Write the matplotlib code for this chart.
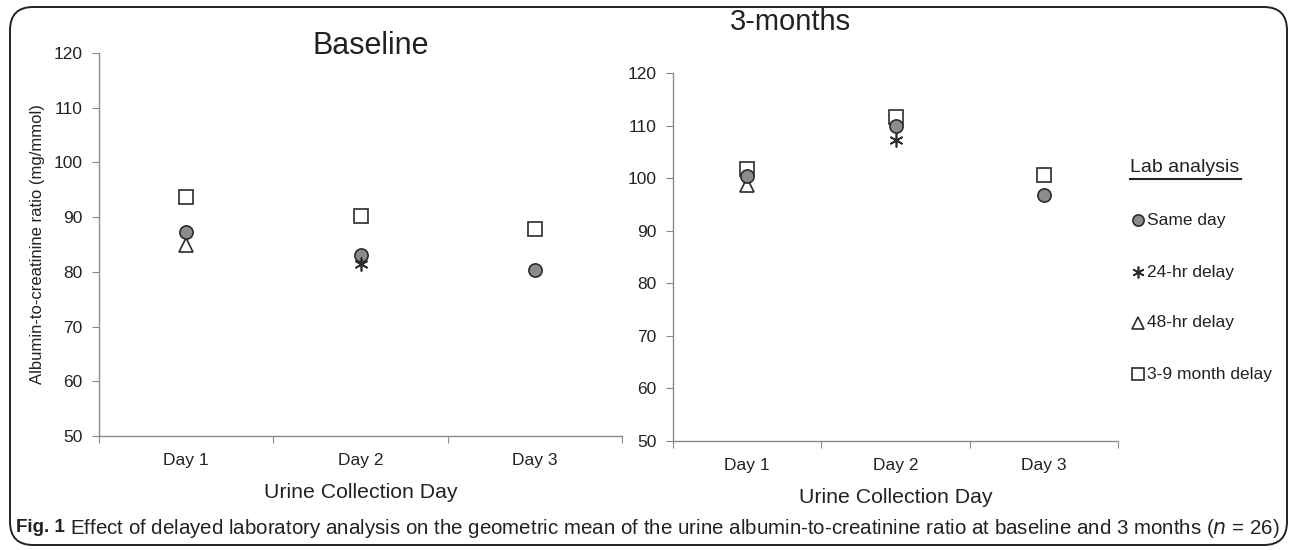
import matplotlib.pyplot as plt
import numpy as np
from matplotlib.patches import FancyBboxPatch
from matplotlib.lines import Line2D

plt.rcParams['font.family'] = ['Liberation Sans', 'DejaVu Sans']

# categories and series (nan = point hidden behind another marker)
days = ["Day 1", "Day 2", "Day 3"]
series_names = ["Same day", "24-hr delay", "48-hr delay", "3-9 month delay"]

baseline_same = [87.3, 83.0, 80.3]
baseline_24hr = [np.nan, 81.4, np.nan]
baseline_48hr = [85.0, np.nan, np.nan]
baseline_39mo = [93.6, 90.3, 87.8]

months3_same = [100.5, 109.9, 96.7]
months3_24hr = [np.nan, 107.3, np.nan]
months3_48hr = [98.7, np.nan, np.nan]
months3_39mo = [101.7, 111.6, 100.6]

W, H = 1292, 550
fig = plt.figure(figsize=(W / 100, H / 100), dpi=100)

TXT = "#222222"
EDGE = "#2b2b2b"
styles = {
    "Same day": dict(marker="o", ms=9.5, mfc="#8c8c8c", mec=EDGE, mew=1.2),
    "24-hr delay": dict(marker=(6, 2, 0), ms=10, mfc="none", mec=EDGE, mew=1.2),
    "48-hr delay": dict(marker="^", ms=10, mfc="white", mec=EDGE, mew=1.2),
    "3-9 month delay": dict(marker="s", ms=9.5, mfc="white", mec=EDGE, mew=1.2),
}
zorders = {"3-9 month delay": 3, "48-hr delay": 4, "Same day": 5, "24-hr delay": 6}


def px_axes(x0, x1, y0, y1):
    return fig.add_axes([x0 / W, 1 - y1 / H, (x1 - x0) / W, (y1 - y0) / H])


def draw_panel(ax, data):
    x = np.arange(len(days)) + 0.5
    for name, vals in zip(series_names, data):
        ax.plot(x, vals, linestyle="none", zorder=zorders[name], **styles[name])
    ax.set_xlim(0, 3)
    ax.set_ylim(50, 120)
    ax.set_yticks(range(50, 121, 10))
    ax.set_xticks([0, 1, 2, 3])
    ax.set_xticklabels([])
    ax.set_xticks(x, minor=True)
    ax.set_xticklabels(days, minor=True)
    for s in ["top", "right"]:
        ax.spines[s].set_visible(False)
    for s in ["left", "bottom"]:
        ax.spines[s].set_color("#8a8a8a")
        ax.spines[s].set_linewidth(1.0)
    ax.tick_params(axis="both", which="major", color="#8a8a8a", length=5,
                   labelsize=12.5, labelcolor=TXT, direction="out")
    ax.tick_params(axis="x", which="minor", length=0, labelsize=12.5,
                   labelcolor=TXT, pad=12)
    ax.tick_params(axis="y", pad=7)
    ax.set_xlabel("Urine Collection Day", fontsize=15.3, color=TXT, labelpad=11)


ax1 = px_axes(99, 622, 53, 436)
draw_panel(ax1, [baseline_same, baseline_24hr, baseline_48hr, baseline_39mo])
ax1.set_ylabel("Albumin-to-creatinine ratio (mg/mmol)", fontsize=12,
               color=TXT, labelpad=6)

ax2 = px_axes(673, 1118, 73, 441)
draw_panel(ax2, [months3_same, months3_24hr, months3_48hr, months3_39mo])

# panel titles
fig.text(371 / W, 1 - 46 / H, "Baseline", fontsize=22, ha="center", va="center",
         color=TXT)
fig.text(790 / W, 1 - 22 / H, "3-months", fontsize=21, ha="center", va="center",
         color=TXT)

# legend drawn by hand
lx, ly = 1130, 167
fig.text(lx / W, 1 - ly / H, "Lab analysis", fontsize=14, ha="left", va="center",
         color=TXT)
fig.add_artist(Line2D([lx / W, 1241 / W], [1 - 179 / H, 1 - 179 / H],
                      color=TXT, lw=1.5))
leg_y = [220, 272, 323, 374]
for name, yy in zip(series_names, leg_y):
    st = dict(styles[name])
    st["ms"] = st["ms"] * 0.85
    fig.add_artist(Line2D([1138 / W], [1 - yy / H], linestyle="none", **st))
    fig.text(1147 / W, 1 - yy / H, name, fontsize=12.5, ha="left", va="center",
             color=TXT)

# outer rounded frame
frame = FancyBboxPatch((10 / W, 5 / H), 1277 / W, 538 / H,
                       boxstyle="round,pad=0,rounding_size=0.018",
                       transform=fig.transFigure, fill=False,
                       edgecolor=TXT, lw=1.4, mutation_aspect=W / H)
fig.add_artist(frame)

# caption, sized to span the frame width
cap_y = 1 - 528 / H
t1 = fig.text(16 / W, cap_y, "Fig. 1", fontsize=13.5, fontweight="bold",
              ha="left", va="center", color=TXT)
fig.canvas.draw()
bb = t1.get_window_extent()
t2 = fig.text((bb.x1 + 5) / W, cap_y,
              "Effect of delayed laboratory analysis on the geometric mean of the urine "
              "albumin-to-creatinine ratio at baseline and 3 months ($\\it{n}$ = 26)",
              fontsize=13, ha="left", va="center", color=TXT)
fig.canvas.draw()
bb2 = t2.get_window_extent()
t2.set_fontsize(13 * (1280 - bb2.x0) / (bb2.x1 - bb2.x0))

fig.savefig("out.png", dpi=100)
